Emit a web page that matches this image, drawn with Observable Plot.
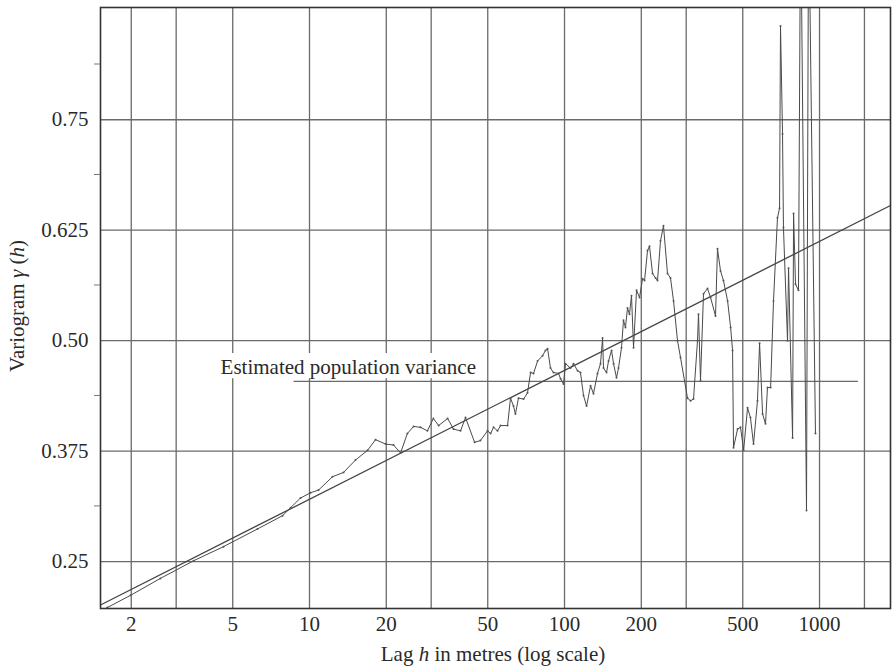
<!DOCTYPE html>
<html>
<head>
<meta charset="utf-8">
<script src="https://cdn.jsdelivr.net/npm/d3@7"></script>
<script src="https://cdn.jsdelivr.net/npm/@observablehq/plot@0.6"></script>
<style>
  html, body { margin: 0; padding: 0; background: #fff; }
  #chart svg { display: block; }
</style>
</head>
<body>
<div id="chart"></div>
<script>
// Experimental variogram (lag h in metres, gamma(h))
const lags = [1.61,1.99,2.60,3.51,4.60,6.25,7.84,8.43,9.22,10.1,10.85,12.3,13.6,15.15,16.9,18.15,19.9,21.35,22.75,24.2,
  25.6,27.25,29.0,30.6,32.1,34.8,36.7,39.1,40.9,44.4,46.8,49.9,51.3,52.7,54.6,56.1,59.8,61.4,63.1,64.2,
  66.0,69.1,71.6,73.6,75.6,78.4,82.0,84.2,85.8,88.1,90.5,94.7,96.5,99.1,100.9,105.6,108.5,112.5,115.5,118.7,
  122,126.5,129.9,134.7,138.4,141,142.2,146.1,148.8,152.9,155.7,159.9,162.8,167.3,170.3,173.4,176.6,179.8,183.1,186.5,
  191.6,196.9,202.3,206,211.6,215.4,221.4,227.5,231.6,237.9,244.4,253.4,260.4,267.6,277.4,285,303.6,312,320.5,332.3,
  335.3,341.4,350.8,363.7,373.7,391,398,409,420,436,448,456,460,477,490,504,522,536,551,571,
  582,598,614,625,643,660,684,697,703,716,722,749,756,784,791,805,827,843,889,906,964];
const gammas = [0.198,0.212,0.231,0.251,0.267,0.287,0.302,0.311,0.322,0.328,0.331,0.346,0.351,0.365,0.376,0.388,0.383,0.382,0.373,0.395,
  0.403,0.402,0.398,0.412,0.404,0.412,0.400,0.398,0.413,0.385,0.387,0.398,0.395,0.402,0.398,0.404,0.404,0.435,0.426,0.417,
  0.435,0.434,0.441,0.464,0.463,0.477,0.483,0.489,0.491,0.469,0.464,0.463,0.457,0.451,0.474,0.469,0.474,0.466,0.464,0.438,
  0.426,0.449,0.440,0.463,0.474,0.503,0.469,0.464,0.477,0.489,0.474,0.458,0.469,0.492,0.523,0.515,0.537,0.530,0.551,0.492,
  0.557,0.549,0.570,0.568,0.602,0.607,0.576,0.571,0.568,0.613,0.630,0.576,0.571,0.545,0.500,0.481,0.435,0.432,0.434,0.500,
  0.530,0.455,0.553,0.559,0.549,0.528,0.604,0.579,0.568,0.545,0.515,0.489,0.379,0.400,0.402,0.376,0.424,0.413,0.383,0.432,
  0.497,0.417,0.406,0.447,0.447,0.545,0.639,0.650,0.856,0.734,0.628,0.500,0.582,0.390,0.644,0.564,0.557,1.0,0.308,1.0,0.395];

// Fitted straight line (on log-lag axis): end points
const fitLags = [1.515, 1898];
const fitGammas = [0.201, 0.653];

// Estimated population variance
const popVariance = 0.454;
const popLagRange = [8.7, 1420];
const popLabel = "Estimated population variance";

// Axes
const xDomain = [1.515, 1898];
const yDomain = [0.197, 0.877];
const xGridLags = [2,3,5,10,20,30,50,100,200,300,500,1000,1500];
const xTickLags = [2,5,10,20,50,100,200,500,1000];
const xTickLabels = ["2","5","10","20","50","100","200","500","1000"];
const yTicks = [0.25,0.375,0.5,0.625,0.75];
const yTickLabels = ["0.25","0.375","0.50","0.625","0.75"];
const yMinorTicks = [0.3125,0.4375,0.5625,0.6875,0.8125];

const data = lags.map((h, i) => ({h, g: gammas[i]}));
const fit = fitLags.map((h, i) => ({h, g: fitGammas[i]}));
const xTickData = xTickLags.map((h, i) => ({h, t: xTickLabels[i]}));
const yTickData = yTicks.map((g, i) => ({g, t: yTickLabels[i]}));

const ink = "#2a2a2a";
const gridInk = "#6a6a6a";

const plot = Plot.plot({
  width: 892,
  height: 671,
  marginLeft: 100,
  marginRight: 2,
  marginTop: 7,
  marginBottom: 63,
  style: {fontFamily: "'Liberation Serif', 'Times New Roman', serif", fontSize: "21px", color: ink, background: "#fff"},
  x: {type: "log", domain: xDomain, axis: null},
  y: {domain: yDomain, axis: null},
  marks: [
    Plot.gridX(xGridLags, {stroke: gridInk, strokeOpacity: 1, strokeWidth: 1.3}),
    Plot.gridY(yTicks, {stroke: gridInk, strokeOpacity: 1, strokeWidth: 1.3}),
    Plot.rect([{a: 4.36, b: 47.7, lo: 0.457, hi: 0.4855}], {x1: "a", x2: "b", y1: "lo", y2: "hi", fill: "#fff"}),
    Plot.ruleY([{v: popVariance, a: popLagRange[0], b: popLagRange[1]}], {y: "v", x1: "a", x2: "b", stroke: gridInk, strokeWidth: 1.3}),
    Plot.line(fit, {x: "h", y: "g", stroke: "#444", strokeWidth: 1.3}),
    Plot.line(data, {x: "h", y: "g", stroke: "#4a4a4a", strokeWidth: 1, clip: true}),
    Plot.dot(data.filter(d => d.g < 0.87), {x: "h", y: "g", r: 1, fill: "#555", stroke: null}),
    Plot.text([{t: popLabel, h: 4.48, g: 0.4625}], {x: "h", y: "g", text: "t", textAnchor: "start", lineAnchor: "bottom", fill: ink, fontSize: 21}),
    Plot.text(xTickData, {x: "h", text: "t", frameAnchor: "bottom", lineAnchor: "top", dy: 8, fill: ink, fontSize: 21}),
    Plot.text(yTickData, {y: "g", text: "t", frameAnchor: "left", textAnchor: "end", dx: -12, fill: ink, fontSize: 21}),
    Plot.frame({stroke: "#333", strokeWidth: 1.6})
  ]
});

const svg = d3.select(plot);
// minor tick marks just outside the left frame edge, positioned with Plot's y scale
const yScale = plot.scale("y");
yMinorTicks.forEach(v => {
  const yy = yScale.apply(v);
  svg.append("line").attr("x1", 94).attr("x2", 100).attr("y1", yy).attr("y2", yy)
    .attr("stroke", "#777").attr("stroke-width", 1);
});

const xt = svg.append("text")
  .attr("x", 493).attr("y", 661)
  .attr("text-anchor", "middle")
  .attr("fill", ink)
  .style("font-size", "21px");
xt.append("tspan").text("Lag ");
xt.append("tspan").attr("font-style", "italic").text("h");
xt.append("tspan").text(" in metres (log scale)");

const yt = svg.append("text")
  .attr("transform", "translate(24,306) rotate(-90)")
  .attr("text-anchor", "middle")
  .attr("fill", ink)
  .style("font-size", "21px");
yt.append("tspan").text("Variogram ");
yt.append("tspan").attr("font-style", "italic").text("γ");
yt.append("tspan").text(" (");
yt.append("tspan").attr("font-style", "italic").text("h");
yt.append("tspan").text(")");

document.getElementById("chart").appendChild(plot);
</script>
</body>
</html>
